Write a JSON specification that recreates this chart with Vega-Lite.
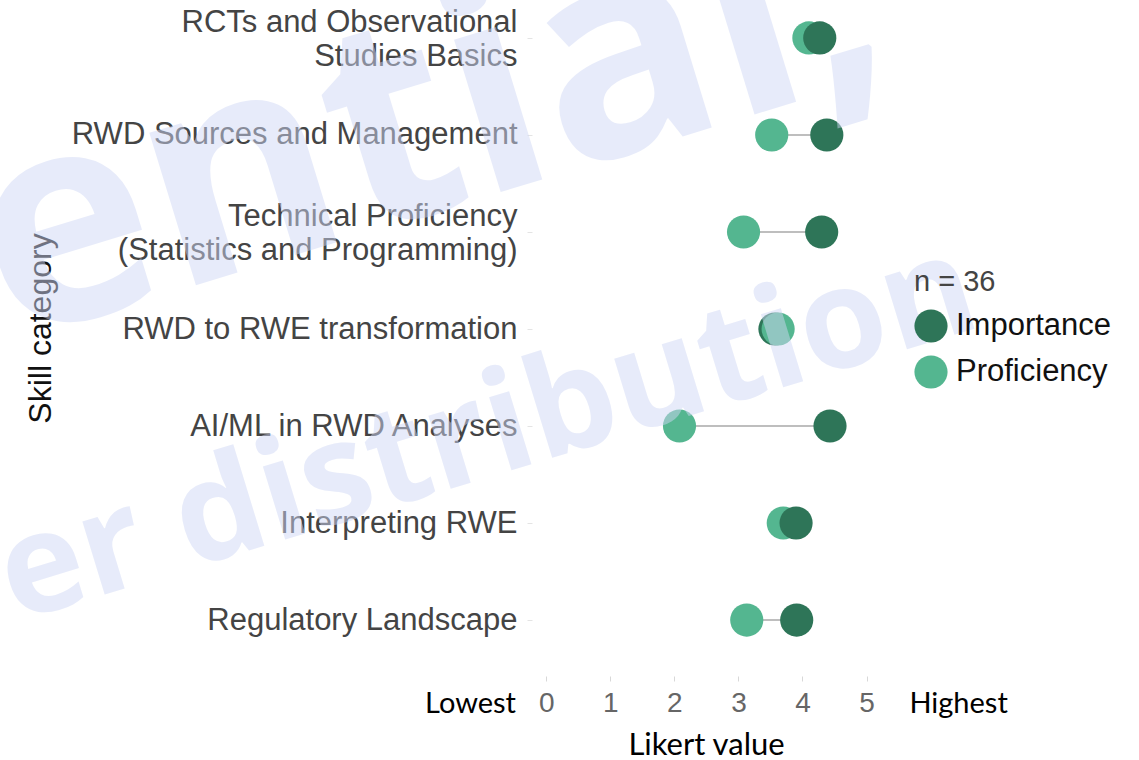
{
  "$schema": "https://vega.github.io/schema/vega-lite/v6.json",
  "autosize": {"type": "none"},
  "padding": {"left": 463, "top": 4, "right": 170, "bottom": 106},
  "width": 506,
  "height": 650,
  "background": "white",
  "config": {"view": {"stroke": null}},
  "data": {
    "values": [
      {"skill": "RCTs and Observational|Studies Basics", "measure": "Importance", "value": 4.27},
      {"skill": "RCTs and Observational|Studies Basics", "measure": "Proficiency", "value": 4.10},
      {"skill": "RWD Sources and Management", "measure": "Importance", "value": 4.38},
      {"skill": "RWD Sources and Management", "measure": "Proficiency", "value": 3.52},
      {"skill": "Technical Proficiency|(Statistics and Programming)", "measure": "Importance", "value": 4.30},
      {"skill": "Technical Proficiency|(Statistics and Programming)", "measure": "Proficiency", "value": 3.08},
      {"skill": "RWD to RWE transformation", "measure": "Importance", "value": 3.57},
      {"skill": "RWD to RWE transformation", "measure": "Proficiency", "value": 3.62},
      {"skill": "AI/ML in RWD Analyses", "measure": "Importance", "value": 4.43},
      {"skill": "AI/ML in RWD Analyses", "measure": "Proficiency", "value": 2.08},
      {"skill": "Interpreting RWE", "measure": "Importance", "value": 3.90},
      {"skill": "Interpreting RWE", "measure": "Proficiency", "value": 3.70},
      {"skill": "Regulatory Landscape", "measure": "Importance", "value": 3.91},
      {"skill": "Regulatory Landscape", "measure": "Proficiency", "value": 3.13}
    ]
  },
  "encoding": {
    "y": {
      "field": "skill",
      "type": "nominal",
      "sort": [
        "RCTs and Observational|Studies Basics",
        "RWD Sources and Management",
        "Technical Proficiency|(Statistics and Programming)",
        "RWD to RWE transformation",
        "AI/ML in RWD Analyses",
        "Interpreting RWE",
        "Regulatory Landscape"
      ],
      "scale": {"type": "point", "padding": 0.35},
      "axis": {
        "title": "Skill category",
        "titleFont": "Liberation Sans",
        "titleFontSize": 32,
        "titleFontWeight": "normal",
        "titleColor": "#111111",
        "titleX": -492,
        "titleY": 324,
        "titleAngle": 270,
        "titleBaseline": "middle",
        "titleAlign": "center",
        "labelExpr": "split(datum.label, '|')",
        "labelFont": "Liberation Sans",
        "labelFontSize": 31,
        "labelColor": "#444444",
        "labelLineHeight": 34,
        "labelPadding": 10,
        "labelLimit": 0,
        "labelOffset": {"condition": {"test": "indexof(datum.value, '|') >= 0", "value": -15}, "value": 0},
        "domain": false,
        "ticks": true,
        "tickSize": 5,
        "tickColor": "#e4e4e4",
        "offset": -69
      }
    }
  },
  "layer": [
    {
      "mark": {"type": "rule", "color": "#a8a8a8", "strokeWidth": 1.6},
      "encoding": {
        "x": {"aggregate": "min", "field": "value", "type": "quantitative"},
        "x2": {"aggregate": "max", "field": "value"}
      }
    },
    {
      "mark": {"type": "point", "filled": true, "opacity": 1, "shape": "circle", "size": 1100},
      "encoding": {
        "x": {
          "field": "value",
          "type": "quantitative",
          "scale": {"domain": [-1.3, 6.6], "nice": false, "zero": false},
          "axis": {
            "title": "Likert value",
            "titleFont": "Lato",
            "titleFontSize": 31,
            "titleFontWeight": "normal",
            "titleColor": "#000000",
            "titlePadding": 12,
            "titleX": 243,
            "titleAlign": "center",
            "values": [-1.19, 0, 1, 2, 3, 4, 5, 6.43],
            "labelExpr": "datum.value < 0 ? 'Lowest' : datum.value > 5.5 ? 'Highest' : format(datum.value, 'd')",
            "labelFont": {"condition": {"test": "datum.value < 0 || datum.value > 5.5", "value": "Lato"}, "value": "Liberation Sans"},
            "labelColor": {"condition": {"test": "datum.value < 0 || datum.value > 5.5", "value": "#000000"}, "value": "#666666"},
            "labelFontSize": {"condition": {"test": "datum.value < 0 || datum.value > 5.5", "value": 29}, "value": 28},
            "labelPadding": 8,
            "labelFlush": false,
            "labelOverlap": false,
            "labelBound": false,
            "grid": false,
            "domain": false,
            "tickSize": 5,
            "tickColor": "#d8d8d8",
            "tickOpacity": {"condition": {"test": "datum.value < 0 || datum.value > 5.5", "value": 0}, "value": 1},
            "offset": 22
          }
        },
        "color": {
          "field": "measure",
          "type": "nominal",
          "scale": {"domain": ["Importance", "Proficiency"], "range": ["#2e7558", "#54b690"]},
          "legend": {
            "title": "n = 36",
            "orient": "none",
            "legendX": 451,
            "legendY": 264,
            "titleFont": "Liberation Sans",
            "titleFontSize": 29,
            "titleFontWeight": "normal",
            "titleColor": "#444444",
            "titlePadding": 12,
            "labelFont": "Liberation Sans",
            "labelFontSize": 31,
            "labelColor": "#111111",
            "labelOffset": 8,
            "symbolSize": 1100,
            "symbolType": "circle",
            "symbolStrokeWidth": 0,
            "rowPadding": 12,
            "padding": 0
          }
        },
        "order": {"field": "value", "type": "quantitative", "sort": "ascending"}
      }
    },
    {
      "data": {"values": [{"skill": "RWD to RWE transformation", "value": -8.45, "mark_text": "ential,"}]},
      "mark": {"type": "text", "font": "Open Sans", "fontWeight": "bold", "fontSize": 292, "angle": -17, "align": "left", "baseline": "alphabetic", "dy": 14, "color": "#d0d8f5", "opacity": 0.49},
      "encoding": {
        "x": {"field": "value", "type": "quantitative"},
        "text": {"field": "mark_text"}
      }
    },
    {
      "data": {"values": [{"skill": "Regulatory Landscape", "value": -8.3, "mark_text": "er distribution"}]},
      "mark": {"type": "text", "font": "Open Sans", "fontWeight": "bold", "fontSize": 140, "angle": -17, "align": "left", "baseline": "alphabetic", "dy": 2, "color": "#d0d8f5", "opacity": 0.49},
      "encoding": {
        "x": {"field": "value", "type": "quantitative"},
        "text": {"field": "mark_text"}
      }
    }
  ]
}
